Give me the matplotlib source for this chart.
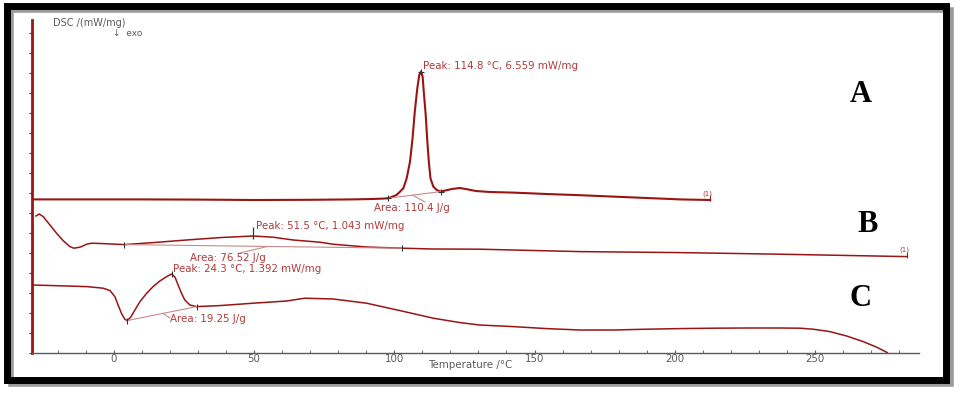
import matplotlib.pyplot as plt
from matplotlib.patches import Rectangle
from matplotlib.ticker import MultipleLocator

# DSC curves (temperature in degC, signal in stacked arbitrary units)
A_temp = [-29, -10, 10, 30, 50, 70, 85, 92, 96, 97.9, 100.8, 103.2, 104.4, 105.6, 106.5, 107.3, 108.2, 108.9, 109.5,
          110.1, 110.5, 111.2, 111.7, 112.3, 112.9, 113.9, 115.1, 116.6, 118.0, 120.5, 123.4, 126.2, 129.1, 134.1,
          142.3, 154.3, 166.2, 178.0, 190.0, 201.9, 212.6]
A_dsc = [7.68, 7.68, 7.68, 7.67, 7.65, 7.66, 7.68, 7.7, 7.72, 7.74, 7.9, 8.23, 8.73, 9.57, 10.73, 12.07, 13.24, 13.9,
         14.07, 13.82, 13.07, 11.9, 10.73, 9.57, 8.73, 8.32, 8.15, 8.07, 8.12, 8.2, 8.25, 8.18, 8.1, 8.05,
         8.02, 7.95, 7.89, 7.82, 7.75, 7.68, 7.65]

B_temp = [-27.8, -26.6, -25.2, -22.8, -20.4, -18.1, -15.7, -14.3, -12.1, -9.7, -8.0, -3.8, 3.7, 14.0, 25.9, 37.8,
          49.7, 56.8, 63.9, 73.5, 78.1, 90.1, 102.8, 113.8, 130.5, 166.2, 201.9, 237.5, 282.7]
B_dsc = [6.85, 6.95, 6.82, 6.4, 5.98, 5.62, 5.32, 5.24, 5.29, 5.44, 5.49, 5.47, 5.42, 5.52, 5.65, 5.77,
         5.85, 5.79, 5.65, 5.54, 5.44, 5.3, 5.24, 5.2, 5.19, 5.07, 5.02, 4.94, 4.82]

C_temp = [-29.3, -21.6, -9.7, -3.8, -1.4, 0.36, 1.5, 2.7, 3.9, 4.7, 6.0, 7.5, 9.3, 11.7, 14.0, 16.4, 18.8, 20.6,
          21.8, 22.9, 24.1, 25.3, 27.1, 29.5, 37.8, 49.7, 61.6, 68.1, 78.2, 90.1, 102.0, 113.9, 123.4, 130.5,
          142.3, 154.3, 166.2, 178.0, 190.0, 201.9, 213.6, 225.6, 237.5, 244.7, 249.4, 255.3, 261.3, 267.2,
          272.0, 275.8]
C_dsc = [3.4, 3.37, 3.32, 3.24, 3.12, 2.82, 2.4, 1.98, 1.69, 1.62, 1.79, 2.15, 2.57, 2.99, 3.32, 3.6, 3.82, 3.95,
         3.79, 3.4, 2.99, 2.65, 2.4, 2.32, 2.37, 2.49, 2.6, 2.74, 2.7, 2.49, 2.12, 1.74, 1.52, 1.4,
         1.32, 1.22, 1.15, 1.15, 1.19, 1.22, 1.24, 1.25, 1.25, 1.24, 1.19, 1.07, 0.85, 0.57,
         0.29, 0.02]

# integration limits / peaks (temp, signal)
A_marks = [(97.9, 7.74), (116.6, 8.07)]
A_peak = (109.5, 14.07)
B_marks = [(3.7, 5.42), (102.8, 5.24)]
B_peak = (49.7, 5.85)
C_marks = [(4.7, 1.62), (20.6, 3.95), (29.5, 2.32)]

peak_labels = ['Peak: 114.8 °C, 6.559 mW/mg', 'Peak: 51.5 °C, 1.043 mW/mg', 'Peak: 24.3 °C, 1.392 mW/mg']
area_labels = ['Area: 110.4 J/g', 'Area: 76.52 J/g', 'Area: 19.25 J/g']
curve_names = ['A', 'B', 'C']

red = '#9a1414'
txt_red = '#b23a3a'
light = '#c98a8a'
gray = '#5a5a5a'
font = ['DejaVu Sans']
fs = 7.4

fig = plt.figure(figsize=(9.62, 3.93), dpi=100)
ax = fig.add_axes([32 / 962, 1 - 353 / 393, 887 / 962, 333 / 393])

ax.plot(A_temp, A_dsc, color=red, lw=1.5, solid_joinstyle='round')
ax.plot(B_temp, B_dsc, color=red, lw=1.1, solid_joinstyle='round')
ax.plot(C_temp, C_dsc, color=red, lw=1.1, solid_joinstyle='round')

# baselines for the integrated areas
ax.plot([A_marks[0][0], A_marks[1][0]], [A_marks[0][1], A_marks[1][1]], color=light, lw=0.8)
ax.plot([B_marks[0][0], B_marks[1][0]], [B_marks[0][1], B_marks[1][1]], color=light, lw=0.8)
ax.plot([C_marks[0][0], C_marks[2][0]], [C_marks[0][1], C_marks[2][1]], color=light, lw=0.8)

# connectors to the area labels
ax.plot([110.9, 106.6], [7.55, 7.89], color=light, lw=0.8)
ax.plot([44.9, 54.6], [5.0, 5.32], color=light, lw=0.8)
ax.plot([20.0, 17.5], [1.75, 1.98], color=light, lw=0.8)

for t, v in A_marks + [A_peak]:
    ax.plot(t, v, marker='+', color='#333333', ms=5, mew=0.8)
for t, v in B_marks + C_marks:
    ax.plot(t, v, marker='|', color='#333333', ms=4, mew=0.8)
ax.plot(B_peak[0], B_peak[1] + 0.15, marker='|', color='#333333', ms=8, mew=0.9)
ax.plot(A_temp[-1], A_dsc[-1] + 0.1, marker='|', color=red, ms=4, mew=0.8)
ax.plot(B_temp[-1], B_dsc[-1] + 0.1, marker='|', color=red, ms=4, mew=0.8)

# annotations
ax.text(110.2, 14.35, peak_labels[0], color=txt_red, fontsize=fs, family=font, va='center')
ax.text(92.7, 7.25, area_labels[0], color=txt_red, fontsize=fs, family=font, va='center')
ax.text(50.6, 6.35, peak_labels[1], color=txt_red, fontsize=fs, family=font, va='center')
ax.text(27.1, 4.77, area_labels[1], color=txt_red, fontsize=fs, family=font, va='center')
ax.text(21.0, 4.22, peak_labels[2], color=txt_red, fontsize=fs, family=font, va='center')
ax.text(20.0, 1.7, area_labels[2], color=txt_red, fontsize=fs, family=font, va='center')
ax.text(211.5, 7.95, '(1)', color=txt_red, fontsize=5, family=font, ha='center', va='center')
ax.text(282.0, 5.15, '(1)', color=txt_red, fontsize=5, family=font, ha='center', va='center')

ax.set_xlim(-29.2, 287.1)
ax.set_ylim(0, 16.65)
ax.set_xticks([0, 50, 100, 150, 200, 250])
ax.xaxis.set_minor_locator(MultipleLocator(10))
ax.yaxis.set_major_locator(MultipleLocator(1))
ax.tick_params(axis='x', which='both', direction='in', length=2, color=gray, labelcolor=gray,
               labelsize=fs, pad=1)
ax.tick_params(axis='y', which='both', direction='out', length=2.5, color=red, labelleft=False)
for lab in ax.get_xticklabels():
    lab.set_family(font)
for s in ['top', 'right']:
    ax.spines[s].set_visible(False)
ax.spines['left'].set_color(red)
ax.spines['left'].set_linewidth(2)
ax.spines['bottom'].set_color(gray)
ax.spines['bottom'].set_linewidth(1)

fig.text(470 / 962, 1 - 365 / 393, 'Temperature /°C', color=gray, fontsize=fs, family=font,
         ha='center', va='center')
fig.text(53 / 962, 1 - 23 / 393, 'DSC /(mW/mg)', color=gray, fontsize=7, family=font, va='center')
fig.text(113 / 962, 1 - 34 / 393, '↓  exo', color=gray, fontsize=6.5, family=font, va='center')

# curve letters
letter_pos = [(861, 94), (868, 224), (861, 298)]
for name, (px, py) in zip(curve_names, letter_pos):
    fig.text(px / 962, 1 - py / 393, name, color='black', fontsize=22, weight='bold',
             family=['Liberation Serif', 'DejaVu Serif'], ha='center', va='center')

# framed border with shadow
fig.patches.append(Rectangle((11 / 962, 1 - 384 / 393), 940 / 962, 374 / 393, transform=fig.transFigure,
                             fill=False, edgecolor='#9a9a9a', lw=4, zorder=0))
fig.patches.append(Rectangle((6.5 / 962, 1 - 379.5 / 393), 940 / 962, 374 / 393, transform=fig.transFigure,
                             fill=False, edgecolor='black', lw=5, zorder=1))

fig.savefig('out.png', dpi=100)
